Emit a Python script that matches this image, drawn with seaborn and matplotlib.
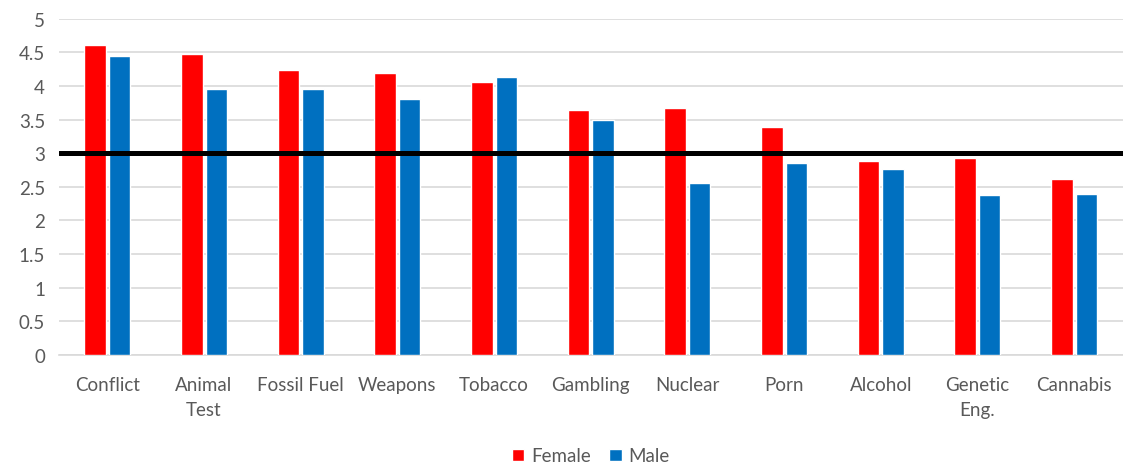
import matplotlib
matplotlib.use("Agg")
import matplotlib.pyplot as plt
import seaborn as sns
import pandas as pd

categories = ["Conflict", "Animal\nTest", "Fossil Fuel", "Weapons", "Tobacco", "Gambling",
              "Nuclear", "Porn", "Alcohol", "Genetic\nEng.", "Cannabis"]
female = [4.61, 4.47, 4.23, 4.19, 4.06, 3.64, 3.67, 3.39, 2.88, 2.93, 2.61]
male = [4.45, 3.95, 3.96, 3.80, 4.13, 3.50, 2.56, 2.85, 2.77, 2.38, 2.40]
y_ticks = [0, 0.5, 1, 1.5, 2, 2.5, 3, 3.5, 4, 4.5, 5]
y_tick_labels = ["0", "0.5", "1", "1.5", "2", "2.5", "3", "3.5", "4", "4.5", "5"]
reference_level = 3

df = pd.DataFrame({
    "category": categories * 2,
    "score": female + male,
    "gender": ["Female"] * len(categories) + ["Male"] * len(categories),
})

sns.set_theme(style="white")
plt.rcParams["font.family"] = ["Lato", "DejaVu Sans"]

W, H = 1123, 464
fig = plt.figure(figsize=(W / 100, H / 100), dpi=100)
ax = fig.add_axes([59 / W, 1 - 356 / H, (1122.5 - 59) / W, (356 - 19.7) / H])

palette = {"Female": "#FF0000", "Male": "#0070C0"}
sns.barplot(data=df, x="category", y="score", hue="gender", palette=palette,
            width=0.507, gap=0.124, saturation=1, ax=ax, zorder=3)

ax.set_ylim(0, 5)
ax.set_xlim(-0.5, len(categories) - 0.5)
ax.set_yticks(y_ticks)
ax.set_yticklabels(y_tick_labels)
ax.yaxis.grid(True, color="#D9D9D9", linewidth=1.2, zorder=0)
ax.set_axisbelow(True)
for s in ["top", "right", "left"]:
    ax.spines[s].set_visible(False)
ax.spines["bottom"].set_color("#D9D9D9")
ax.spines["bottom"].set_linewidth(1.2)

ax.axhline(reference_level, color="black", linewidth=3.6, zorder=4)

ax.set_xlabel("")
ax.set_ylabel("")
ax.tick_params(axis="both", length=0, labelsize=13.5, colors="#595959")
ax.tick_params(axis="x", pad=15)
ax.tick_params(axis="y", pad=10)
for lbl in ax.get_xticklabels():
    lbl.set_linespacing(1.6)

ax.legend(loc="center", bbox_to_anchor=(0.5, (356 - 457) / (356 - 19.7)), ncol=2,
          frameon=False, fontsize=13.5, handlelength=0.65, handleheight=0.65,
          handletextpad=0.35, columnspacing=1.0, labelcolor="#595959")

fig.savefig("out.png", dpi=100)
